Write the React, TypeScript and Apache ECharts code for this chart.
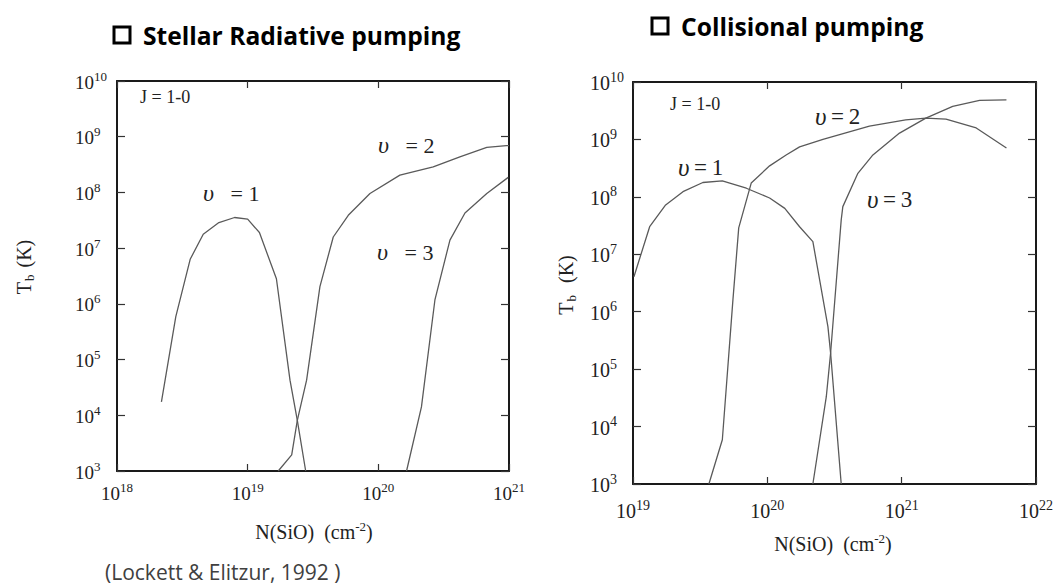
import React, { useEffect, useRef } from "react";
import * as echarts from "echarts";

// log10 N(SiO) [cm^-2] and log10 Tb [K]
// Left panel: stellar radiative pumping (x range 10^18..10^21)
const radV1LogN = [18.34, 18.45, 18.56, 18.66, 18.78, 18.9, 19.0, 19.09, 19.22, 19.324, 19.38, 19.444];
const radV1LogT = [4.24, 5.77, 6.8, 7.25, 7.46, 7.55, 7.52, 7.28, 6.45, 4.63, 3.91, 3.0];
const radV2LogN = [19.234, 19.337, 19.38, 19.451, 19.553, 19.655, 19.77, 19.936, 20.165, 20.42, 20.624, 20.83, 20.98, 21.0];
const radV2LogT = [3.0, 3.29, 3.91, 4.63, 6.31, 7.2, 7.59, 7.98, 8.31, 8.46, 8.64, 8.81, 8.84, 8.84];
const radV3LogN = [20.216, 20.33, 20.433, 20.548, 20.663, 20.83, 20.994];
const radV3LogT = [3.0, 4.15, 6.07, 7.145, 7.63, 7.98, 8.27];

// Right panel: collisional pumping (x range 10^19..10^22)
const colV1LogN = [19.007, 19.124, 19.243, 19.372, 19.52, 19.665, 19.844, 20.017, 20.13, 20.24, 20.339, 20.451, 20.471, 20.55];
const colV1LogT = [6.61, 7.48, 7.86, 8.09, 8.25, 8.28, 8.15, 7.98, 7.8, 7.48, 7.22, 5.74, 5.28, 3.0];
const colV2LogN = [19.565, 19.665, 19.744, 19.787, 19.88, 20.017, 20.14, 20.24, 20.414, 20.76, 21.03, 21.18, 21.33, 21.555, 21.78];
const colV2LogT = [3.0, 3.77, 6.21, 7.46, 8.24, 8.54, 8.73, 8.87, 9.0, 9.23, 9.34, 9.37, 9.355, 9.2, 8.85];
const colV3LogN = [20.339, 20.439, 20.471, 20.55, 20.562, 20.674, 20.786, 20.984, 21.18, 21.38, 21.58, 21.78];
const colV3LogT = [3.0, 4.52, 5.28, 7.6, 7.83, 8.41, 8.73, 9.11, 9.37, 9.575, 9.68, 9.69];

// axis exponent ranges (ticks every decade)
const radXRange = [18, 21];
const colXRange = [19, 22];
const tbRange = [3, 10];

const SERIF = "Liberation Serif";
const SANS = "Open Sans";
const LINE = "#5a5a5a";
const AXIS = "#1a1a1a";

const pairs = (xs: number[], ys: number[]) => xs.map((x, i) => [x, ys[i]]);

function tickRich(base: number, sup: number) {
  return {
    b: { fontSize: base, fontFamily: SERIF, color: "#222", verticalAlign: "bottom", lineHeight: base + 2 },
    s: { fontSize: sup, fontFamily: SERIF, color: "#222", verticalAlign: "bottom", lineHeight: base + 2, padding: [0, 0, Math.round(base * 0.45), 0] },
  };
}

function makeX(grid: number, range: number[], pos: "bottom" | "top", labels: boolean, margin: number, base: number, sup: number) {
  return {
    gridIndex: grid,
    type: "value",
    position: pos,
    min: range[0],
    max: range[1],
    interval: 1,
    axisLine: { show: true, onZero: false, lineStyle: { color: AXIS, width: 2 } },
    axisTick: { show: true, inside: true, length: 7, lineStyle: { color: "#333", width: 1.2 } },
    splitLine: { show: false },
    axisLabel: {
      show: labels,
      margin,
      formatter: (v: number) => `{b|10}{s|${v}}`,
      rich: tickRich(base, sup),
    },
  };
}

function makeY(grid: number, range: number[], pos: "left" | "right", labels: boolean, margin: number, base: number, sup: number) {
  return {
    gridIndex: grid,
    type: "value",
    position: pos,
    min: range[0],
    max: range[1],
    interval: 1,
    axisLine: { show: true, onZero: false, lineStyle: { color: AXIS, width: 2 } },
    axisTick: { show: true, inside: true, length: 8, lineStyle: { color: "#333", width: 1.2 } },
    splitLine: { show: false },
    axisLabel: {
      show: labels,
      margin,
      align: "left",
      formatter: (v: number) => `{b|10}{s|${v}}`,
      rich: tickRich(base, sup),
    },
  };
}

function line(name: string, data: number[][], axis: number) {
  return {
    name,
    type: "line",
    xAxisIndex: axis,
    yAxisIndex: axis,
    data,
    showSymbol: false,
    symbol: "none",
    smooth: false,
    clip: true,
    lineStyle: { color: LINE, width: 1.3 },
    silent: true,
  };
}

function vLabel(x: number, y: number, txt: string, size: number) {
  return {
    type: "text",
    x,
    y,
    style: {
      text: `{i|υ}{n|${txt}}`,
      align: "left",
      verticalAlign: "middle",
      rich: {
        i: { fontFamily: SERIF, fontStyle: "italic", fontSize: size + 2, fill: "#222" },
        n: { fontFamily: SERIF, fontSize: size, fill: "#222" },
      },
    },
  };
}

function App() {
  const ref = useRef<HTMLDivElement>(null);
  useEffect(() => {
    if (!ref.current) return;
    const chart = echarts.init(ref.current, null, { renderer: "svg" });
    const option: any = {
      animation: false,
      backgroundColor: "#fff",
      grid: [
        { left: 117, top: 81, width: 392, height: 390 },
        { left: 633, top: 82, width: 404, height: 402 },
      ],
      xAxis: [
        makeX(0, radXRange, "bottom", true, 11, 19, 13),
        makeX(0, radXRange, "top", false, 8, 19, 13),
        makeX(1, colXRange, "bottom", true, 15, 20, 14),
        makeX(1, colXRange, "top", false, 8, 20, 14),
      ],
      yAxis: [
        makeY(0, tbRange, "left", true, 42, 19, 13),
        makeY(0, tbRange, "right", false, 8, 19, 13),
        makeY(1, tbRange, "left", true, 43, 20, 14),
        makeY(1, tbRange, "right", false, 8, 20, 14),
      ],
      series: [
        line("rad v=1", pairs(radV1LogN, radV1LogT), 0),
        line("rad v=2", pairs(radV2LogN, radV2LogT), 0),
        line("rad v=3", pairs(radV3LogN, radV3LogT), 0),
        line("col v=1", pairs(colV1LogN, colV1LogT), 2),
        line("col v=2", pairs(colV2LogN, colV2LogT), 2),
        line("col v=3", pairs(colV3LogN, colV3LogT), 2),
      ],
      graphic: [
        // Titles
        { type: "rect", shape: { x: 114, y: 27, width: 16, height: 16 }, style: { fill: "none", stroke: "#000", lineWidth: 3 } },
        { type: "text", x: 143, y: 35, style: { text: "Stellar Radiative pumping", fontFamily: SANS, fontWeight: "bold", fontSize: 24.6, fill: "#000", align: "left", verticalAlign: "middle" } },
        { type: "rect", shape: { x: 652, y: 18, width: 16, height: 16 }, style: { fill: "none", stroke: "#000", lineWidth: 3 } },
        { type: "text", x: 681, y: 26, style: { text: "Collisional pumping", fontFamily: SANS, fontWeight: "bold", fontSize: 24.6, fill: "#000", align: "left", verticalAlign: "middle" } },
        // J labels
        { type: "text", x: 140, y: 97, style: { text: "J = 1-0", fontFamily: SERIF, fontSize: 18, fill: "#222", align: "left", verticalAlign: "middle" } },
        { type: "text", x: 670, y: 104, style: { text: "J = 1-0", fontFamily: SERIF, fontSize: 18, fill: "#222", align: "left", verticalAlign: "middle" } },
        // curve labels
        vLabel(203, 193, "   = 1", 22),
        vLabel(378, 145, "   = 2", 22),
        vLabel(377, 252, "   = 3", 22),
        vLabel(678, 167, "\u2009=\u20091", 23),
        vLabel(815, 116, "\u2009=\u20092", 23),
        vLabel(867, 199, "\u2009=\u20093", 23),
        // y-axis titles
        {
          type: "text", x: 25, y: 267, rotation: Math.PI / 2,
          style: {
            text: "{t|T}{u|b}{t| (K)}", align: "center", verticalAlign: "middle",
            rich: {
              t: { fontFamily: SERIF, fontSize: 20, fill: "#222", verticalAlign: "top" },
              u: { fontFamily: SERIF, fontSize: 13, fill: "#222", verticalAlign: "top", padding: [9, 2, 0, 1] },
            },
          },
        },
        {
          type: "text", x: 567, y: 285, rotation: Math.PI / 2,
          style: {
            text: "{t|T}{u|b}{t|  (K)}", align: "center", verticalAlign: "middle",
            rich: {
              t: { fontFamily: SERIF, fontSize: 20, fill: "#222", verticalAlign: "top" },
              u: { fontFamily: SERIF, fontSize: 13, fill: "#222", verticalAlign: "top", padding: [9, 2, 0, 1] },
            },
          },
        },
        // x-axis titles
        {
          type: "text", x: 314, y: 531,
          style: {
            text: "{t|N(SiO)  (cm}{s|-2}{t|)}", align: "center", verticalAlign: "middle",
            rich: {
              t: { fontFamily: SERIF, fontSize: 20, fill: "#222", verticalAlign: "bottom" },
              s: { fontFamily: SERIF, fontSize: 13, fill: "#222", verticalAlign: "bottom", padding: [0, 0, 9, 0] },
            },
          },
        },
        {
          type: "text", x: 833, y: 543,
          style: {
            text: "{t|N(SiO)  (cm}{s|-2}{t|)}", align: "center", verticalAlign: "middle",
            rich: {
              t: { fontFamily: SERIF, fontSize: 20, fill: "#222", verticalAlign: "bottom" },
              s: { fontFamily: SERIF, fontSize: 13, fill: "#222", verticalAlign: "bottom", padding: [0, 0, 9, 0] },
            },
          },
        },
        // citation
        { type: "text", x: 105, y: 572, style: { text: "(Lockett & Elitzur, 1992 )", fontFamily: SANS, fontSize: 21, lineHeight: 22, fill: "#404040", align: "left", verticalAlign: "middle" } },
      ],
    };
    chart.setOption(option);
    return () => chart.dispose();
  }, []);
  return <div ref={ref} style={{ position: "fixed", left: 0, top: 0, width: 1056, height: 588 }} />;
}

export default App;
